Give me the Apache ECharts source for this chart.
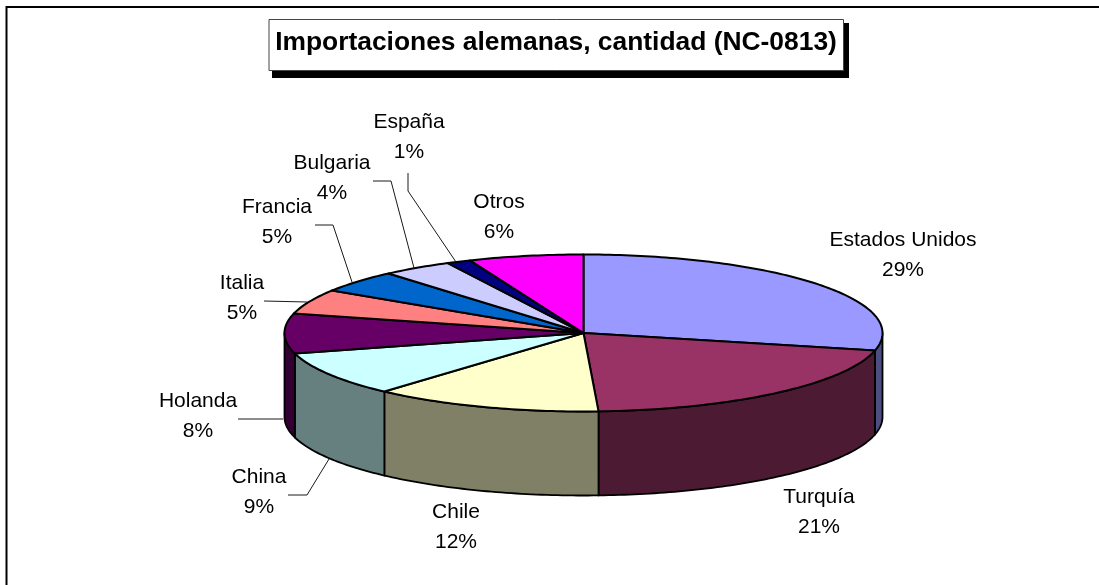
<!DOCTYPE html>
<html><head><meta charset="utf-8">
<style>html,body{margin:0;padding:0;background:#fff;}#c{width:1099px;height:585px;}</style>
<script src="https://cdn.jsdelivr.net/npm/echarts@6/dist/echarts.min.js"></script>
</head><body><div id="c"></div>
<script>
const categories = ['Estados Unidos','Turquía','Chile','China','Holanda','Italia','Francia','Bulgaria','España','Otros'];
const shares = [28.6,20.6,12.4,9.2,8.2,5.1,4.6,3.8,1.3,6.2];
const topColors = ['#9999FF','#993366','#FFFFCC','#CCFFFF','#660066','#FF8080','#0066CC','#CCCCFF','#000080','#FF00FF'];
const wallColors = ['#4D4D80','#4D1A33','#808066','#668080','#330033','#804040','#003366','#666680','#000040','#800080'];
const titleText = 'Importaciones alemanas, cantidad (NC-0813)';

// layout (label centres and leader paths in page pixels)
const labelPos = [[903,255],[819,512],[456,527],[259,492.5],[198,416.5],[242,298],[277,222],[332,178.5],[409,137],[499,217]];
const leaders = [null,null,null,
  [[288,495],[307,495],[329,459]],
  [[238,419],[283,419]],
  [[264,301],[307,302]],
  [[315,225],[333,225],[352,282]],
  [[373,181],[391,181],[414,268]],
  [[408,173],[408,191],[456,262]],
  null];
const depth = 84 / 78.5;      // wall height, in units of the ellipse's vertical radius
const STEP = 1;               // degrees per outline segment
const total = shares.reduce((a,b)=>a+b,0);
const starts = []; shares.reduce((acc,v,i)=>{starts[i]=acc;return acc+v;},0);
const deg = v => v/total*360;
const pt = (api,a,drop) => { const r=a*Math.PI/180; return api.coord([Math.sin(r), Math.cos(r)-(drop||0)]); };
function arc(api,a0,a1,drop){ const out=[]; const n=Math.max(1,Math.ceil((a1-a0)/STEP));
  for(let i=0;i<=n;i++) out.push(pt(api,a0+(a1-a0)*i/n,drop)); return out; }

function wallItem(params,api){
  const i=api.value(0), a0=deg(starts[i]), a1=a0+deg(api.value(1));
  const lo=Math.max(a0,90), hi=Math.min(a1,270);
  if(hi<=lo) return {type:'group',children:[]};
  const points=arc(api,lo,hi,0).concat(arc(api,lo,hi,depth).reverse());
  return {type:'polygon',shape:{points},style:{fill:wallColors[i],stroke:'#000',lineWidth:1.8,lineJoin:'round'}};
}
function topItem(params,api){
  const i=api.value(0), a0=deg(starts[i]), a1=a0+deg(api.value(1));
  const points=[api.coord([0,0])].concat(arc(api,a0,a1,0));
  return {type:'polygon',shape:{points},style:{fill:topColors[i],stroke:'#000',lineWidth:2,lineJoin:'round'}};
}
function labelItem(params,api){
  const i=api.value(0), children=[];
  if(leaders[i]) children.push({type:'polyline',shape:{points:leaders[i]},style:{fill:null,stroke:'#1a1a1a',lineWidth:1}});
  children.push({type:'text',style:{x:labelPos[i][0],y:labelPos[i][1],
    text:categories[i]+'\n'+Math.round(api.value(1))+'%',
    font:'21px "Liberation Sans", Arial, sans-serif',lineHeight:30,fill:'#000',align:'center',verticalAlign:'middle'}});
  return {type:'group',children};
}
const rows = categories.map((c,i)=>[i,shares[i]]);
const chart = echarts.init(document.getElementById('c'),null,{renderer:'canvas'});
chart.setOption({
  animation:false, backgroundColor:'#fff',
  grid:{left:284.5,width:598,top:254.5,height:157+84,containLabel:false},
  xAxis:{type:'value',min:-1,max:1,show:false},
  yAxis:{type:'value',min:-1-depth,max:1,show:false},
  tooltip:{show:false},
  graphic:[
    {type:'line',shape:{x1:6,y1:7,x2:1099,y2:7},style:{stroke:'#000',lineWidth:2}},
    {type:'line',shape:{x1:6.5,y1:6,x2:6.5,y2:585},style:{stroke:'#000',lineWidth:2}},
    {type:'rect',shape:{x:272,y:23,width:577,height:55},style:{fill:'#000'},z:1},
    {type:'rect',shape:{x:269,y:19.5,width:574.5,height:51},style:{fill:'#fff',stroke:'#444',lineWidth:1},z:2},
    {type:'text',style:{x:556,y:43,text:titleText,font:'bold 26.4px "Liberation Sans", Arial, sans-serif',fill:'#000',align:'center',verticalAlign:'middle'},z:3}
  ],
  series:[
    {type:'custom',renderItem:wallItem,data:rows,z:2,coordinateSystem:'cartesian2d',silent:true,clip:false},
    {type:'custom',renderItem:topItem,data:rows,z:3,coordinateSystem:'cartesian2d',silent:true,clip:false},
    {type:'custom',renderItem:labelItem,data:rows,z:4,coordinateSystem:'cartesian2d',silent:true,clip:false}
  ]
});
</script></body></html>
